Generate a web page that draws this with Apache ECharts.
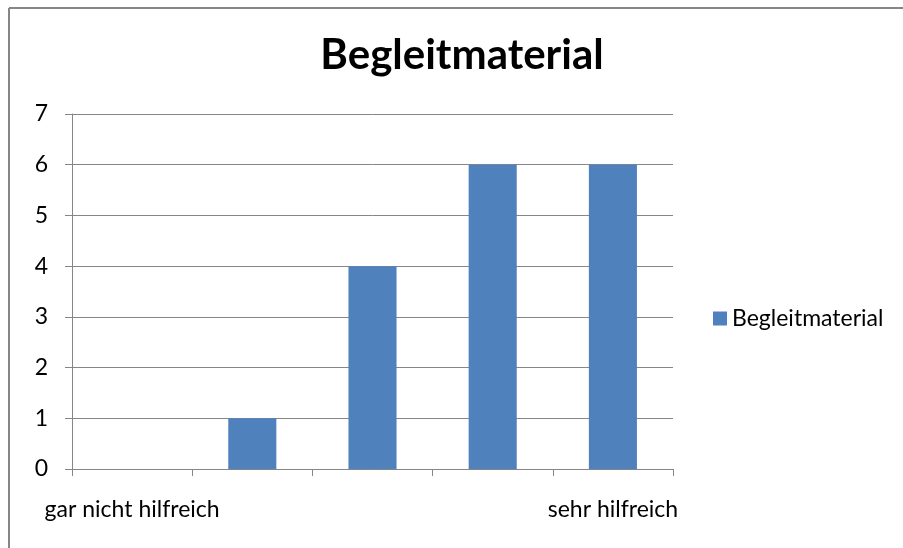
<!DOCTYPE html>
<html><head><meta charset="utf-8">
<script src="https://cdn.jsdelivr.net/npm/echarts@6/dist/echarts.min.js"></script>
<style>html,body{margin:0;padding:0;background:#fff}#c{width:903px;height:548px}</style>
</head><body><div id="c"></div>
<script>
const categories = ['gar nicht hilfreich', '', '', '', 'sehr hilfreich'];
const values = [0, 1, 4, 6, 6];
const seriesName = 'Begleitmaterial';
const titleText = 'Begleitmaterial';
const yTicks = [0, 1, 2, 3, 4, 5, 6, 7];

const chart = echarts.init(document.getElementById('c'), null, {renderer: 'canvas'});
const font = 'Lato';
chart.setOption({
  animation: false,
  backgroundColor: '#fff',
  graphic: [
    {type: 'line', shape: {x1: 9, y1: 8, x2: 903, y2: 8}, style: {stroke: '#868686', lineWidth: 2}},
    {type: 'line', shape: {x1: 9, y1: 8, x2: 9, y2: 548}, style: {stroke: '#868686', lineWidth: 2}}
  ],
  title: {
    text: titleText, left: 462, top: 34, textAlign: 'center', padding: 0,
    textStyle: {fontFamily: font, fontWeight: 'bold', fontSize: 42, color: '#000'}
  },
  legend: {
    orient: 'vertical', left: 713, top: 307, padding: 0,
    itemWidth: 14, itemHeight: 14, itemGap: 8,
    icon: 'rect',
    textStyle: {fontFamily: font, fontSize: 23, color: '#000'},
    data: [seriesName]
  },
  grid: {left: 72, right: 230, top: 114, bottom: 79, containLabel: false},
  xAxis: {
    type: 'category', data: categories,
    axisLine: {lineStyle: {color: '#868686', width: 1}},
    axisTick: {show: true, length: 7, lineStyle: {color: '#868686'}, alignWithLabel: false},
    axisLabel: {fontFamily: font, fontSize: 23, color: '#000', margin: 29, interval: 0}
  },
  yAxis: {
    type: 'value', min: yTicks[0], max: yTicks[yTicks.length - 1], interval: 1,
    axisLine: {show: true, lineStyle: {color: '#868686', width: 1}},
    axisTick: {show: true, length: 7, lineStyle: {color: '#868686'}},
    splitLine: {lineStyle: {color: '#868686', width: 1}},
    axisLabel: {fontFamily: font, fontSize: 23, color: '#000', margin: 24}
  },
  series: [{
    name: seriesName, type: 'bar', data: values,
    barWidth: '40%',
    itemStyle: {color: '#4F81BD'}
  }]
});
</script></body></html>
